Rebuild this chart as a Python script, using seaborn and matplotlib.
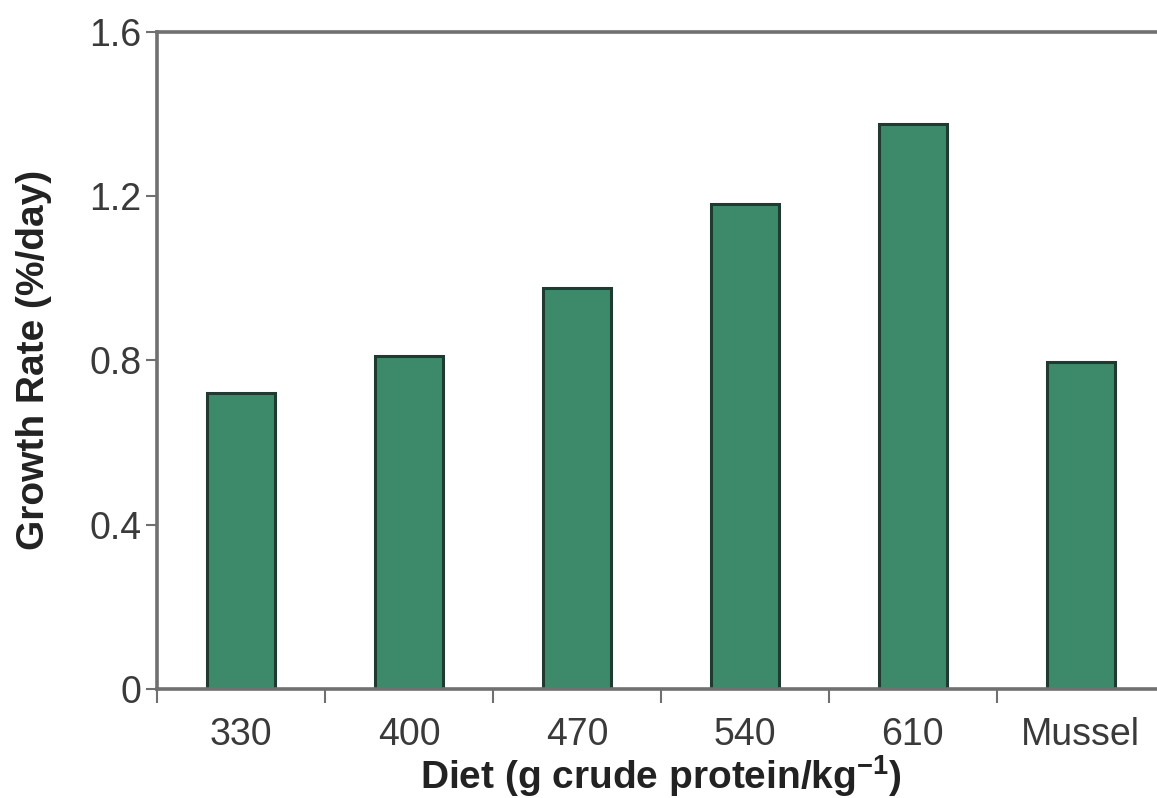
import numpy as np
import pandas as pd
import matplotlib
matplotlib.use('Agg')
import matplotlib.pyplot as plt
import seaborn as sns
from matplotlib.ticker import FixedLocator

# 데이터
diets = ['330', '400', '470', '540', '610', 'Mussel']
growth = [0.72, 0.81, 0.975, 1.18, 1.375, 0.795]
yticks = [0, 0.4, 0.8, 1.2, 1.6]
ytick_labels = ['0', '0.4', '0.8', '1.2', '1.6']

df = pd.DataFrame({'diet': diets, 'growth': growth})

sns.set_style('white')
plt.rcParams['font.family'] = ['Liberation Sans', 'DejaVu Sans']
plt.rcParams['mathtext.fontset'] = 'custom'
plt.rcParams['mathtext.rm'] = 'Liberation Sans'
plt.rcParams['mathtext.bf'] = 'Liberation Sans:bold'

fig = plt.figure(figsize=(11.57, 7.98), dpi=100)
ax = fig.add_axes([0.1357, 0.1366, 0.871, 0.8237])

sns.barplot(data=df, x='diet', y='growth', color='#3d8a6a', width=0.405,
            edgecolor='#1f3a30', linewidth=2.2, saturation=1, ax=ax)

ax.set_xlim(-0.5, 5.5)
ax.set_ylim(0, 1.6)

spine_col = '#707070'
for s in ['left', 'bottom', 'top']:
    ax.spines[s].set_color(spine_col)
    ax.spines[s].set_linewidth(2.6)
ax.spines['right'].set_visible(False)

ax.set_yticks(yticks)
ax.set_yticklabels(ytick_labels)
ax.tick_params(axis='y', which='major', left=True, direction='out', length=8,
               width=1.5, color=spine_col, labelsize=27, labelcolor='#3a3a3a', pad=3)

# 범주 사이 눈금은 minor, 라벨은 major
ax.xaxis.set_minor_locator(FixedLocator(np.arange(-0.5, 6.0, 1.0)))
ax.tick_params(axis='x', which='major', bottom=True, length=0, labelsize=27,
               labelcolor='#3a3a3a', pad=20)
ax.tick_params(axis='x', which='minor', bottom=True, direction='out', length=10,
               width=1.5, color=spine_col)

ax.set_xlabel('Diet (g crude protein/kg$^{\\mathbf{-1}}$)', fontsize=28,
              fontweight='bold', color='#222222', labelpad=0)
ax.set_ylabel('Growth Rate (%/day)', fontsize=28, fontweight='bold',
              color='#222222', labelpad=27)

fig.savefig('out.png', dpi=100)
